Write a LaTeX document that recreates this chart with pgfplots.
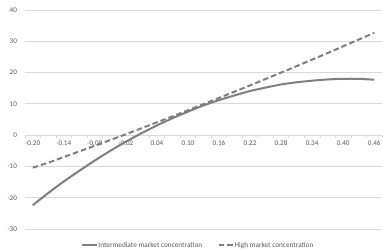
\documentclass[border=0pt]{standalone}
\usepackage{fontspec}
\setmainfont{Carlito}
\usepackage{pgfplots}
\pgfplotsset{compat=1.18}
\definecolor{txt}{HTML}{595959}
\definecolor{grd}{HTML}{D9D9D9}
\definecolor{ln}{HTML}{7F7F7F}
\begin{document}
\begin{tikzpicture}
\path[use as bounding box] (-25bp,-21bp) rectangle (358bp,229bp);
\begin{axis}[
  scale only axis, width=357bp, height=219bp,
  at={(0,0)}, anchor=south west,
  xmin=-0.215, xmax=0.475, ymin=-30, ymax=40,
  axis x line=middle, axis y line=left,
  axis line style={grd, line width=0.75bp, -},
  y axis line style={draw=none},
  tick align=outside,
  xtick={-0.20,-0.14,-0.08,-0.02,0.04,0.10,0.16,0.22,0.28,0.34,0.40,0.46},
  xticklabels={-0.20,-0.14,-0.08,-0.02,0.04,0.10,0.16,0.22,0.28,0.34,0.40,0.46},
  minor xtick={-0.215,-0.185,-0.155,-0.125,-0.095,-0.065,-0.035,-0.005,0.025,0.055,0.085,0.115,0.145,0.175,0.205,0.235,0.265,0.295,0.325,0.355,0.385,0.415,0.445,0.475},
  ytick={-30,-20,-10,0,10,20,30,40},
  yticklabels={-30,-20,-10,0,10,20,30,40},
  major tick length=0pt, minor tick length=3bp,
  tick style={grd, line width=0.75bp},
  ymajorgrids, grid style={grd, line width=0.75bp},
  tick label style={font=\fontsize{7.2}{8}\selectfont, text=txt},
  xticklabel style={yshift=-2bp},
  yticklabel style={xshift=-4.5bp},
  legend columns=2,
  legend style={at={(0.4837,-0.075)}, anchor=center, draw=none, fill=none,
    font=\fontsize{7.3}{8}\selectfont, text=txt,
    nodes={inner xsep=0.5bp, inner ysep=1bp},
    /tikz/every even column/.append style={column sep=15bp}},
  legend image code/.code={\draw[#1] (0bp,0bp) -- (14.5bp,0bp);},
  clip=false,
]
\addplot[ln, line width=2bp, smooth] table {
x y
-0.20 -22.4
-0.17 -18.5
-0.14 -14.8
-0.11 -11.4
-0.08 -8.1
-0.05 -5.0
-0.02 -2.1
0.01 0.6
0.04 3.1
0.07 5.4
0.10 7.5
0.13 9.5
0.16 11.2
0.19 12.7
0.22 14.1
0.25 15.2
0.28 16.2
0.31 16.9
0.34 17.4
0.37 17.8
0.40 18.0
0.43 18.0
0.46 17.7
};
\addlegendentry{Intermediate market concentration}
\addplot[ln, line width=2bp, smooth, dash pattern=on 5.5bp off 3bp] table {
x y
-0.20 -10.4
-0.17 -8.8
-0.14 -7.0
-0.11 -5.2
-0.08 -3.4
-0.05 -1.55
-0.02 0.3
0.01 2.2
0.04 4.1
0.07 6.0
0.10 7.95
0.13 9.9
0.16 11.9
0.19 13.9
0.22 15.9
0.25 17.95
0.28 20.0
0.31 22.05
0.34 24.15
0.37 26.25
0.40 28.4
0.43 30.55
0.46 32.7
};
\addlegendentry{High market concentration}
\end{axis}
\end{tikzpicture}
\end{document}
